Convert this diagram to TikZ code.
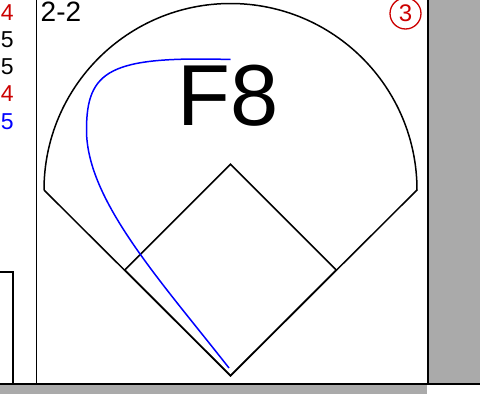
\documentclass[tikz,border=0pt]{standalone}
\usepackage{fontspec}
\setmainfont{Liberation Sans}
\definecolor{runred}{HTML}{CC0000}
\definecolor{hitblue}{HTML}{0000FF}
\definecolor{panelgray}{HTML}{AAAAAA}

\begin{document}
\begin{tikzpicture}[x=1pt, y=-1pt,
    fld/.style={draw, line width=1.5pt},
    rule/.style={line width=1.4pt},
    cnt/.style={inner sep=0pt, anchor=base east, font=\fontsize{23}{23}\selectfont}]
  \useasboundingbox (0,0) rectangle (480,394);
  \fill[panelgray] (428,0) rectangle (480,383);
  \fill[panelgray] (0,384.5) rectangle (427,394);
  \foreach \d/\c [count=\i] in {4/runred,5/black,5/black,4/runred,5/hitblue}
    \node[cnt, text=\c] (cnt\i) at (13.8,-7.3+27.3*\i) {\d};
  \draw[rule] (0,272) -- (13,272) -- (13,383);
  \draw[rule] (36.5,0) -- (36.5,383);
  \draw[line width=2pt] (427.5,0) -- (427.5,384);
  \draw[line width=2pt] (0,383.5) -- (480,383.5);
  \coordinate (home) at (230.5,375.7);
  \coordinate (first) at (336.2,270);
  \coordinate (second) at (230.5,164.3);
  \coordinate (third) at (124.8,270);
  \coordinate (lpole) at (44,190);
  \coordinate (rpole) at (417,190);
  \draw[fld] (home) -- (first) -- (second) -- (third) -- cycle;
  \draw[fld] (lpole) -- (home) -- (rpole) arc[start angle=0, end angle=-180, radius=186.5];
  \draw[hitblue, line width=1.5pt] (229,368) .. controls (160,280) and (86.5,200) .. (86.5,130)
    .. controls (86.5,70) and (110,56) .. (230.5,59.5);
  \node[inner sep=0pt, anchor=base west, font=\fontsize{28}{28}\selectfont] (count) at (40.5,21) {2-2};
  \node[inner sep=0pt, anchor=base, font=\fontsize{86.6}{90}\selectfont] (play) at (228.5,125) {F8};
  \node[circle, draw=runred, text=runred, line width=1.3pt, minimum size=31pt, inner sep=0pt,
    font=\fontsize{24}{24}\selectfont] (outs) at (405.5,13.5) {3};
\end{tikzpicture}
\end{document}
